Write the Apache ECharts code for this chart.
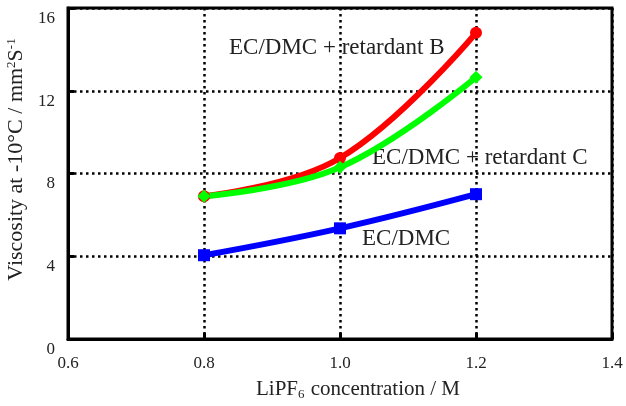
<!DOCTYPE html>
<html><head><meta charset="utf-8">
<script src="https://cdn.jsdelivr.net/npm/echarts@6/dist/echarts.min.js"></script>
<style>html,body{margin:0;padding:0;background:#fff}#c{width:626px;height:406px}</style>
</head><body><div id="c"></div>
<script>
const concentrations = [0.8, 1.0, 1.2];
const ecdmc = [4.05, 5.35, 7.0];
const retardantB = [6.9, 8.75, 14.8];
const retardantC = [6.9, 8.3, 12.65];
const xTicks = [0.6, 0.8, 1.0, 1.2, 1.4];
const yTicks = [0, 4, 8, 12, 16];

const F = 'Liberation Serif, Times New Roman, serif';
const chart = echarts.init(document.getElementById('c'));
const pair = v => concentrations.map((x, i) => [x, v[i]]);
function line(name, data, color, symbol, size) {
  return {
    name, type: 'line', data: pair(data), smooth: 0.4,
    lineStyle: {color, width: 6}, itemStyle: {color},
    symbol, symbolSize: size, showSymbol: true, z: 3
  };
}
chart.setOption({
  animation: false,
  grid: {left: 68, right: 14, top: 8, bottom: 67, outerBoundsMode: 'none', containLabel: false, show: true, borderColor: '#000', borderWidth: 3, backgroundColor: 'transparent'},
  xAxis: {
    type: 'value', min: xTicks[0], max: xTicks[xTicks.length - 1], interval: 0.2,
    axisLine: {show: true, lineStyle: {color: '#000', width: 3}},
    axisTick: {inside: true, length: 6, lineStyle: {color: '#000', width: 3}},
    axisLabel: {color: '#222', fontFamily: F, fontSize: 17, margin: 16, formatter: v => v.toFixed(1)},
    splitLine: {show: true, lineStyle: {color: '#000', width: 2.5, type: [2.5, 3.5]}},
    name: '{n|LiPF}{sub|6}{n| concentration / M}', nameLocation: 'middle', nameGap: 39,
    nameTextStyle: {padding: [0, 0, 0, 36], rich: {n: {fontFamily: F, fontSize: 21, color: '#222'}, sub: {fontFamily: F, fontSize: 13, color: '#222', verticalAlign: 'bottom', padding: [10, 1, 0, 0]}}}
  },
  yAxis: {
    type: 'value', min: yTicks[0], max: yTicks[yTicks.length - 1], interval: 4,
    axisLine: {show: true, lineStyle: {color: '#000', width: 3}},
    axisTick: {inside: true, length: 6, lineStyle: {color: '#000', width: 3}},
    axisLabel: {color: '#222', fontFamily: F, fontSize: 17, margin: 13, verticalAlign: 'top', padding: [2, 0, 0, 0]},
    splitLine: {show: true, lineStyle: {color: '#000', width: 2.5, type: [2.5, 3.5]}},
    name: '{n|Viscosity at -10°C / mm}{sup|2}{n|S}{sup|-1}', nameLocation: 'middle', nameGap: 32,
    nameTextStyle: {padding: [0, 0, 0, 28], rich: {n: {fontFamily: F, fontSize: 22, color: '#222'}, sup: {fontFamily: F, fontSize: 13, color: '#222', verticalAlign: 'top', padding: [0, 0, 10, 0]}}}
  },
  series: [
    line('EC/DMC + retardant B', retardantB, '#ff0000', 'circle', 12),
    line('EC/DMC + retardant C', retardantC, '#00ff00', 'diamond', 13),
    line('EC/DMC', ecdmc, '#0000ff', 'rect', 12)
  ],
  graphic: [
    {type: 'text', left: 229, top: 36, style: {text: 'EC/DMC + retardant B', font: '23px ' + F, fill: '#222'}},
    {type: 'text', left: 372, top: 146, style: {text: 'EC/DMC + retardant C', font: '23px ' + F, fill: '#222'}},
    {type: 'text', left: 362, top: 227, style: {text: 'EC/DMC', font: '23px ' + F, fill: '#222'}}
  ]
});
</script></body></html>
